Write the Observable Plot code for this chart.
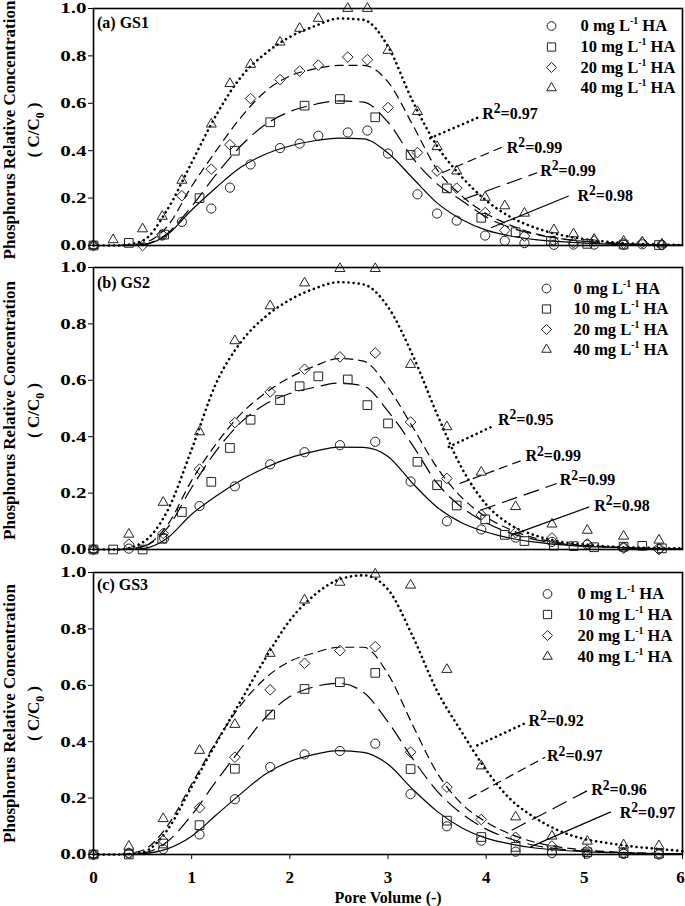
<!DOCTYPE html>
<html><head><meta charset="utf-8">
<script src="https://cdn.jsdelivr.net/npm/d3@7"></script>
<script src="https://cdn.jsdelivr.net/npm/@observablehq/plot@0.6"></script>
<style>
html,body{margin:0;padding:0;background:#fff;}
#chart{position:relative;width:685px;height:906px;overflow:hidden;background:#fff;}
#chart svg{position:absolute;left:0;}
</style></head><body><div id="chart"></div>
<script>
// ---------------- DATA ----------------
const SERIES = ["0", "10", "20", "40"];           // mg/L HA
const X_TICKS = [0, 1, 2, 3, 4, 5, 6];
const Y_TICKS = [0, 0.2, 0.4, 0.6, 0.8, 1.0];
const PANEL_LABELS = ["(a) GS1", "(b) GS2", "(c) GS3"];
const R2_GS1 = ["0.98", "0.99", "0.99", "0.97"];
const R2_GS2 = ["0.98", "0.99", "0.99", "0.95"];
const R2_GS3 = ["0.97", "0.96", "0.97", "0.92"];

// Fitted curves sampled at these pore volumes
const PV_FIT = [0,0.25,0.5,0.75,1,1.25,1.5,1.75,2,2.25,2.5,2.75,3,3.25,3.5,3.75,4,4.25,4.5,4.75,5,5.25,5.5,5.75,6];

// GS1 observations
const gs1_pv_0  = [0,0.7,0.9,1.2,1.39,1.6,1.9,2.1,2.29,2.59,2.79,3.0,3.3,3.5,3.7,3.99,4.19,4.39,4.69,4.89,5.1,5.4,5.59,5.79];
const gs1_c_0   = [0,0.042,0.10,0.156,0.244,0.342,0.411,0.43,0.463,0.477,0.485,0.388,0.216,0.135,0.105,0.042,0.02,0.01,0.003,0.004,0.004,0.003,0.005,0.002];
const gs1_pv_10 = [0,0.36,0.72,1.08,1.44,1.80,2.15,2.51,2.87,3.23,3.60,3.95,4.30,4.66,5.03,5.40,5.76];
const gs1_c_10  = [0,0.011,0.046,0.20,0.40,0.52,0.59,0.618,0.541,0.382,0.241,0.117,0.056,0.02,0.007,0.004,0.002];
const gs1_pv_20 = [0,0.5,0.7,0.9,1.2,1.39,1.6,1.9,2.1,2.29,2.59,2.79,3.0,3.3,3.5,3.7,3.99,4.19,4.39,4.69,4.89,5.1,5.4,5.59,5.79];
const gs1_c_20  = [0,0,0.046,0.21,0.322,0.425,0.62,0.70,0.736,0.761,0.795,0.784,0.582,0.392,0.314,0.242,0.139,0.064,0.04,0.019,0.012,0.019,0.009,0.012,0.003];
const gs1_pv_40 = [0,0.2,0.5,0.7,0.9,1.2,1.39,1.6,1.9,2.1,2.29,2.59,2.79,3.0,3.3,3.5,3.7,3.99,4.19,4.39,4.69,4.89,5.1,5.4,5.59,5.79];
const gs1_c_40  = [0,0.024,0.07,0.123,0.275,0.512,0.683,0.764,0.858,0.916,0.958,1.0,1.0,0.823,0.565,0.417,0.314,0.203,0.167,0.136,0.066,0.049,0.026,0.018,0.014,0.006];

// GS2 observations
const gs2_pv_0  = [0,0.36,0.72,1.08,1.44,1.80,2.15,2.51,2.87,3.23,3.60,3.95,4.30,4.67,5.03,5.40,5.76];
const gs2_c_0   = [0,0.003,0.04,0.154,0.224,0.302,0.345,0.37,0.382,0.241,0.10,0.071,0.042,0.027,0.017,0.007,0.003];
const gs2_pv_10 = [0,0.2,0.5,0.7,0.9,1.2,1.39,1.6,1.9,2.1,2.29,2.59,2.79,3.0,3.3,3.5,3.7,3.99,4.19,4.39,4.69,4.89,5.1,5.4,5.59,5.79];
const gs2_c_10  = [0,0,0,0.038,0.133,0.24,0.36,0.46,0.53,0.579,0.614,0.603,0.512,0.447,0.311,0.228,0.156,0.107,0.052,0.03,0.014,0.012,0.008,0.01,0.013,0.004];
const gs2_pv_20 = [0,0.36,0.71,1.08,1.44,1.80,2.15,2.51,2.87,3.23,3.60,3.95,4.30,4.67,5.03,5.40,5.76];
const gs2_c_20  = [0,0.019,0.057,0.285,0.45,0.559,0.639,0.683,0.697,0.452,0.252,0.123,0.06,0.041,0.02,0.005,0];
const gs2_pv_40 = [0,0.36,0.71,1.08,1.44,1.80,2.15,2.51,2.87,3.23,3.60,3.95,4.30,4.67,5.03,5.40,5.76];
const gs2_c_40  = [0,0.054,0.167,0.417,0.74,0.864,0.945,0.996,0.996,0.656,0.435,0.274,0.152,0.09,0.068,0.047,0.033];

// GS3 observations
const gs3_pv    = [0,0.36,0.71,1.08,1.44,1.80,2.15,2.51,2.87,3.23,3.60,3.95,4.30,4.67,5.03,5.40,5.76];
const gs3_c_0   = [0,0.004,0.019,0.071,0.196,0.31,0.355,0.367,0.393,0.214,0.10,0.049,0.01,0.005,0.003,0.002,0];
const gs3_c_10  = [0,0,0.039,0.104,0.304,0.496,0.587,0.611,0.644,0.303,0.12,0.062,0.027,0.015,0.008,0.005,0.003];
const gs3_c_20  = [0,0.005,0.05,0.166,0.345,0.584,0.678,0.723,0.737,0.363,0.239,0.124,0.061,0.03,0.015,0.006,0.004];
const gs3_c_40  = [0,0.029,0.127,0.369,0.461,0.713,0.902,0.965,0.994,0.955,0.656,0.314,0.133,0.065,0.047,0.034,0.031];

// Fitted model curves
const gs1_fit_0  = [0,0,0.003,0.045,0.15,0.245,0.33,0.385,0.42,0.442,0.453,0.45,0.39,0.285,0.18,0.11,0.065,0.04,0.025,0.016,0.01,0.006,0.004,0.002,0.001];
const gs1_fit_10 = [0,0,0.005,0.05,0.165,0.30,0.42,0.51,0.565,0.595,0.61,0.605,0.52,0.37,0.26,0.19,0.12,0.075,0.047,0.029,0.018,0.011,0.006,0.003,0.001];
const gs1_fit_20 = [0,0,0.01,0.08,0.25,0.40,0.54,0.65,0.715,0.745,0.76,0.76,0.69,0.51,0.32,0.21,0.135,0.085,0.05,0.03,0.017,0.01,0.005,0.003,0.001];
const gs1_fit_40 = [0,0,0.02,0.15,0.35,0.55,0.71,0.81,0.88,0.925,0.958,0.952,0.84,0.61,0.42,0.29,0.19,0.12,0.075,0.045,0.027,0.015,0.008,0.004,0.002];

const gs2_fit_0  = [0,0,0.003,0.04,0.125,0.19,0.245,0.29,0.325,0.348,0.363,0.362,0.33,0.235,0.15,0.095,0.062,0.04,0.026,0.017,0.011,0.008,0.005,0.003,0.002];
const gs2_fit_10 = [0,0,0.01,0.075,0.22,0.35,0.45,0.515,0.553,0.575,0.59,0.58,0.49,0.37,0.235,0.15,0.095,0.058,0.035,0.021,0.013,0.008,0.005,0.003,0.002];
const gs2_fit_20 = [0,0,0.01,0.085,0.245,0.375,0.48,0.555,0.61,0.65,0.677,0.668,0.575,0.435,0.29,0.185,0.115,0.07,0.04,0.024,0.015,0.01,0.006,0.004,0.003];
const gs2_fit_40 = [0,0,0.025,0.135,0.355,0.59,0.735,0.825,0.885,0.925,0.948,0.94,0.86,0.69,0.48,0.29,0.16,0.087,0.05,0.028,0.018,0.01,0.007,0.005,0.004];

const gs3_fit_0  = [0,0,0.003,0.02,0.065,0.14,0.215,0.285,0.33,0.355,0.368,0.362,0.32,0.232,0.153,0.095,0.058,0.037,0.023,0.015,0.01,0.007,0.005,0.003,0.002];
const gs3_fit_10 = [0,0,0.005,0.045,0.14,0.26,0.375,0.485,0.56,0.595,0.607,0.575,0.47,0.34,0.225,0.145,0.09,0.055,0.032,0.019,0.012,0.008,0.005,0.003,0.002];
const gs3_fit_20 = [0,0,0.015,0.1,0.25,0.40,0.53,0.625,0.685,0.715,0.735,0.735,0.64,0.46,0.29,0.18,0.115,0.072,0.043,0.026,0.016,0.01,0.006,0.004,0.003];
const gs3_fit_40 = [0,0,0.008,0.086,0.24,0.395,0.545,0.695,0.83,0.92,0.975,0.99,0.94,0.775,0.58,0.435,0.30,0.195,0.13,0.083,0.055,0.04,0.028,0.02,0.012];

// ---------------- STYLE / LAYOUT ----------------
const FONT = "'Liberation Serif', 'Times New Roman', Times, serif";
const LINE_STYLE = {
  "0":  {w: 1.2, dash: null, cap: "butt"},
  "10": {w: 1.2, dash: "16,7", cap: "butt"},
  "20": {w: 1.2, dash: "9,5", cap: "butt"},
  "40": {w: 2.6, dash: "0.1,5", cap: "round"}
};
const SYMBOL = {"0": "circle", "10": "square", "20": "diamond2", "40": "triangle2"};
const SYMBOL_R = {"0": 4.6, "10": 4.9, "20": 4.8, "40": 4.8};

// annotation placement (data units), order 0,10,20,40
const ANN = [
  [ {x1:4.05,y1:0.075,x2:4.84,y2:0.209,tx:4.93,ty:0.209},
    {x1:3.77,y1:0.195,x2:4.52,y2:0.307,tx:4.55,ty:0.314},
    {x1:3.55,y1:0.307,x2:4.18,y2:0.418,tx:4.21,ty:0.414},
    {x1:3.43,y1:0.453,x2:3.94,y2:0.544,tx:3.96,ty:0.556} ],
  [ {x1:4.25,y1:0.05,x2:5.05,y2:0.151,tx:5.10,ty:0.154},
    {x1:3.94,y1:0.139,x2:4.72,y2:0.234,tx:4.75,ty:0.246},
    {x1:3.73,y1:0.234,x2:4.37,y2:0.317,tx:4.40,ty:0.331},
    {x1:3.62,y1:0.364,x2:4.09,y2:0.441,tx:4.12,ty:0.459} ],
  [ {x1:4.45,y1:0.027,x2:5.27,y2:0.151,tx:5.36,ty:0.147},
    {x1:4.26,y1:0.086,x2:5.04,y2:0.228,tx:5.07,ty:0.228},
    {x1:3.82,y1:0.198,x2:4.60,y2:0.345,tx:4.62,ty:0.348},
    {x1:3.91,y1:0.387,x2:4.42,y2:0.469,tx:4.43,ty:0.475} ]
];

const PANELS = [
  {label: PANEL_LABELS[0], top: 0,   mt: 8,  mb: 8,  ph: 237, labelDy: 14, titleDy: 3, legSym: 458, legTxt: 487, legDy: [17.5,38.5,59,79.5], xAxis: false,
   pts: {"0":[gs1_pv_0,gs1_c_0], "10":[gs1_pv_10,gs1_c_10], "20":[gs1_pv_20,gs1_c_20], "40":[gs1_pv_40,gs1_c_40]},
   fits: {"0":gs1_fit_0, "10":gs1_fit_10, "20":gs1_fit_20, "40":gs1_fit_40}, r2: R2_GS1, ann: ANN[0]},
  {label: PANEL_LABELS[1], top: 257, mt: 10, mb: 8,  ph: 282, labelDy: 15.5, titleDy: 2, legSym: 453, legTxt: 480, legDy: [21,41.5,62,82], xAxis: false,
   pts: {"0":[gs2_pv_0,gs2_c_0], "10":[gs2_pv_10,gs2_c_10], "20":[gs2_pv_20,gs2_c_20], "40":[gs2_pv_40,gs2_c_40]},
   fits: {"0":gs2_fit_0, "10":gs2_fit_10, "20":gs2_fit_20, "40":gs2_fit_40}, r2: R2_GS2, ann: ANN[1]},
  {label: PANEL_LABELS[2], top: 562, mt: 10, mb: 52, ph: 282, labelDy: 12, titleDy: 0, legSym: 454, legTxt: 484, legDy: [21.5,42,63,84], xAxis: true,
   pts: {"0":[gs3_pv,gs3_c_0], "10":[gs3_pv,gs3_c_10], "20":[gs3_pv,gs3_c_20], "40":[gs3_pv,gs3_c_40]},
   fits: {"0":gs3_fit_0, "10":gs3_fit_10, "20":gs3_fit_20, "40":gs3_fit_40}, r2: R2_GS3, ann: ANN[2]}
];

// ---------------- RENDER ----------------
function richText(svg) {
  const ns = "http://www.w3.org/2000/svg";
  svg.querySelectorAll("text").forEach(t => {
    const s = t.textContent;
    if (!/[\^~_]\{/.test(s)) return;
    const fs = parseFloat(getComputedStyle(t).fontSize) || 16;
    while (t.firstChild) t.removeChild(t.firstChild);
    const re = /([\^~_])\{([^}]*)\}/g;
    let last = 0, m, off = 0;
    const add = (str, target, size) => {
      const sp = document.createElementNS(ns, "tspan");
      sp.textContent = str;
      const d = target - off;
      if (d) sp.setAttribute("dy", d.toFixed(2));
      off = target;
      if (size) sp.setAttribute("font-size", size.toFixed(2));
      t.appendChild(sp);
    };
    while ((m = re.exec(s))) {
      if (m.index > last) add(s.slice(last, m.index), 0);
      if (m[1] === "^") add(m[2], -0.42 * fs, 0.6 * fs);
      else if (m[1] === "~") add(m[2], -0.36 * fs, 0.85 * fs);
      else add(m[2], 0.3 * fs, 0.7 * fs);
      last = re.lastIndex;
    }
    if (last < s.length) add(s.slice(last), 0);
  });
}

// widen the y tick labels as in the original figure
function stretchYTicks(svg) {
  svg.querySelectorAll('[aria-label="y-axis tick label"] text').forEach(t => {
    try {
      const w = t.getComputedTextLength();
      if (w > 0) {
        t.setAttribute("textLength", (w * 1.4).toFixed(1));
        t.setAttribute("lengthAdjust", "spacingAndGlyphs");
      }
    } catch (e) {}
  });
  // keep the last x tick label inside the page
  const xl = svg.querySelectorAll('[aria-label="x-axis tick label"] text');
  if (xl.length) xl[xl.length - 1].setAttribute("dx", "-2");
}

const chart = document.getElementById("chart");

PANELS.forEach(p => {
  const marks = [];
  SERIES.forEach(k => {
    const st = LINE_STYLE[k], fit = p.fits[k];
    marks.push(Plot.line(PV_FIT.map((x, i) => ({x, y: fit[i]})), {
      x: "x", y: "y", curve: "monotone-x", stroke: "#000",
      strokeWidth: st.w, strokeDasharray: st.dash, strokeLinecap: st.cap
    }));
  });
  SERIES.forEach(k => {
    const [xs, ys] = p.pts[k];
    marks.push(Plot.dot(xs.map((x, i) => ({x, y: ys[i]})), {
      x: "x", y: "y", symbol: SYMBOL[k], r: SYMBOL_R[k],
      stroke: "#222", strokeWidth: 1, fill: "none"
    }));
  });
  SERIES.forEach((k, j) => {
    const a = p.ann[j], st = LINE_STYLE[k];
    marks.push(Plot.link([a], {x1: "x1", y1: "y1", x2: "x2", y2: "y2", stroke: "#000",
      strokeWidth: st.w, strokeDasharray: st.dash, strokeLinecap: st.cap}));
    marks.push(Plot.text([a], {x: "tx", y: "ty", text: () => "R~{2}=" + p.r2[j],
      textAnchor: "start", lineAnchor: "middle", fontSize: 16, fontWeight: "bold", fill: "#000"}));
  });
  // legend
  SERIES.forEach((k, j) => {
    marks.push(Plot.dot([k], {frameAnchor: "top-left", dx: p.legSym, dy: p.legDy[j],
      symbol: SYMBOL[k], r: SYMBOL_R[k] * 0.95, stroke: "#222", strokeWidth: 1, fill: "none"}));
    marks.push(Plot.text([k], {frameAnchor: "top-left", dx: p.legTxt, dy: p.legDy[j],
      text: d => `${d} mg L^{-1} HA`, textAnchor: "start", lineAnchor: "middle",
      fontSize: 16.5, fontWeight: "bold", fill: "#000"}));
  });
  // panel label
  marks.push(Plot.text([p.label], {frameAnchor: "top-left", dx: 3.5, dy: p.labelDy, text: d => d,
    textAnchor: "start", lineAnchor: "middle", fontSize: 16, fontWeight: "bold", fill: "#000"}));
  // y titles
  marks.push(Plot.text(["Phosphorus Relative Concentration"], {frameAnchor: "left", dx: -83.5, dy: p.titleDy, rotate: -90,
    text: d => d, textAnchor: "middle", lineAnchor: "middle", fontSize: 17, fontWeight: "bold", fill: "#000"}));
  marks.push(Plot.text(["( C/C_{0} )"], {frameAnchor: "left", dx: -60, dy: p.titleDy, rotate: -90,
    text: d => d, textAnchor: "middle", lineAnchor: "middle", fontSize: 17, fontWeight: "bold", fill: "#000"}));
  marks.push(Plot.frame({stroke: "#000", strokeWidth: 1.6}));
  marks.push(Plot.axisY({ticks: Y_TICKS, tickFormat: d => d.toFixed(1), tickSize: 5, tickPadding: 2,
    label: null, fontSize: 15, fontWeight: "bold"}));
  if (p.xAxis) {
    marks.push(Plot.axisX({ticks: X_TICKS, tickFormat: d => String(d), tickSize: 5, tickPadding: 11,
      label: null, fontSize: 17, fontWeight: "bold"}));
    marks.push(Plot.text(["Pore Volume (-)"], {frameAnchor: "bottom", dy: 43, text: d => d,
      textAnchor: "middle", lineAnchor: "middle", fontSize: 16, fontWeight: "bold", fill: "#000"}));
  }
  const xScale = p.xAxis ? {domain: [0, 6]} : {domain: [0, 6], axis: null};
  const svg = Plot.plot({
    width: 685,
    height: p.mt + p.ph + p.mb,
    marginLeft: 93, marginRight: 3, marginTop: p.mt, marginBottom: p.mb,
    x: xScale,
    y: {domain: [0, 1]},
    style: {background: "transparent", overflow: "visible", fontFamily: FONT, fontWeight: "bold", color: "#000", maxWidth: "none"},
    marks
  });
  svg.style.position = "absolute";
  svg.style.top = p.top + "px";
  svg.style.left = "0px";
  chart.appendChild(svg);
  richText(svg);
  stretchYTicks(svg);
});
</script></body></html>
